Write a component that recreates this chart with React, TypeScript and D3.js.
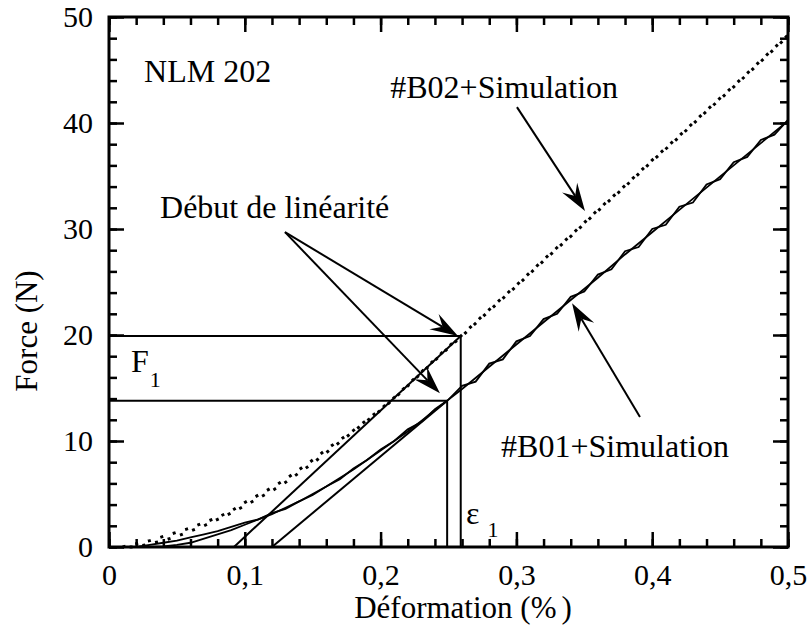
import * as d3 from "d3";
import { useRef, useEffect } from "react";

const width = 810;
const height = 626;
const marginLeft = 109;
const marginRight = 22;
const marginTop = 17;
const marginBottom = 79;
const font = "Liberation Serif";

// #B02 : essai + simulation (pointillés)
const b02Strain = [0.01, 0.02, 0.03, 0.04, 0.05, 0.06, 0.07, 0.08, 0.09, 0.10, 0.11, 0.12, 0.13, 0.14, 0.15, 0.16, 0.17, 0.18, 0.19, 0.20, 0.21, 0.22, 0.23, 0.24, 0.25, 0.26, 0.28, 0.30, 0.32, 0.34, 0.36, 0.38, 0.40, 0.42, 0.44, 0.46, 0.48, 0.50];
const b02Exp = [0, 0.3, 0.6, 1.0, 1.4, 1.8, 2.3, 2.8, 3.4, 4.2, 4.9, 5.6, 6.4, 7.3, 8.2, 9.2, 10.1, 11.0, 12.0, 13.0, 14.1, 15.3, 16.5, 17.7, 18.9, 20.0, 22.4, 24.7, 27.1, 29.4, 31.8, 34.1, 36.5, 38.8, 41.2, 43.5, 45.9, 48.3];
const b02Sim = [0, 0, 0.3, 0.6, 1.0, 1.5, 2.0, 2.6, 3.2, 3.9, 4.6, 5.3, 6.1, 7.0, 7.9, 8.9, 9.9, 10.9, 11.9, 12.9, 14.0, 15.2, 16.4, 17.6, 18.8, 19.9, 22.3, 24.6, 27.0, 29.3, 31.7, 34.0, 36.4, 38.7, 41.1, 43.4, 45.8, 48.2];

// #B01 : essai (bruité) + simulation (traits pleins)
const b01ExpStrain = [0.02, 0.03, 0.04, 0.05, 0.06, 0.07, 0.08, 0.09, 0.10, 0.11, 0.12, 0.13, 0.14, 0.15, 0.16, 0.17, 0.18, 0.19, 0.20, 0.21, 0.22, 0.23, 0.24, 0.25, 0.26, 0.27, 0.28, 0.29, 0.30, 0.31, 0.32, 0.33, 0.34, 0.35, 0.36, 0.37, 0.38, 0.39, 0.40, 0.41, 0.42, 0.43, 0.44, 0.45, 0.46, 0.47, 0.48, 0.49, 0.50];
const b01Exp = [0, 0.2, 0.4, 0.6, 0.9, 1.2, 1.5, 1.9, 2.3, 2.6, 3.2, 3.6, 4.3, 4.9, 5.7, 6.4, 7.4, 8.2, 9.2, 10.0, 11.1, 11.8, 13.0, 13.9, 15.2, 15.6, 17.3, 17.7, 19.4, 19.9, 21.5, 22.0, 23.6, 24.1, 25.7, 26.2, 27.9, 28.3, 30.0, 30.4, 32.1, 32.5, 34.2, 34.7, 36.3, 36.8, 38.4, 38.9, 40.3];
const b01SimStrain = [0.02, 0.03, 0.04, 0.05, 0.06, 0.07, 0.08, 0.09, 0.10, 0.11, 0.12, 0.13, 0.14, 0.15, 0.16, 0.17, 0.18, 0.19, 0.20, 0.21, 0.22, 0.23, 0.24, 0.25, 0.26, 0.28, 0.30, 0.32, 0.34, 0.36, 0.38, 0.40, 0.42, 0.44, 0.46, 0.48, 0.50];
const b01Sim = [0, 0, 0.05, 0.2, 0.4, 0.8, 1.2, 1.6, 2.1, 2.6, 3.1, 3.7, 4.3, 5.0, 5.7, 6.5, 7.3, 8.2, 9.1, 10.0, 10.9, 11.9, 12.9, 13.9, 14.9, 17.0, 19.1, 21.2, 23.3, 25.4, 27.6, 29.7, 31.8, 33.9, 36.0, 38.1, 40.2];

// début de linéarité (déformation, force) et pied des tangentes
const linStrain = [0.259, 0.249];
const linForce = [19.9, 13.8];
const tangentFoot = [0.092, 0.120];

const xTicks = [0, 0.1, 0.2, 0.3, 0.4, 0.5];
const xTickLabels = ["0", "0,1", "0,2", "0,3", "0,4", "0,5"];
const yTicks = [0, 10, 20, 30, 40, 50];

function Arrow({ x1, y1, x2, y2 }: { x1: number; y1: number; x2: number; y2: number }) {
  const a = Math.atan2(y2 - y1, x2 - x1);
  const ux = Math.cos(a), uy = Math.sin(a);
  const px = -uy, py = ux;
  const L = 28, W = 9, N = 18;
  const bx = x2 - ux * L, by = y2 - uy * L;
  const nx = x2 - ux * N, ny = y2 - uy * N;
  const d = `M${x2},${y2}L${bx + px * W},${by + py * W}L${nx},${ny}L${bx - px * W},${by - py * W}Z`;
  return (
    <g>
      <line x1={x1} y1={y1} x2={nx} y2={ny} stroke="black" strokeWidth={2} />
      <path d={d} fill="black" />
    </g>
  );
}

export default function App() {
  const x = d3.scaleLinear([0, 0.5], [marginLeft, width - marginRight]);
  const y = d3.scaleLinear([0, 50], [height - marginBottom, marginTop]);
  const gxMajor = useRef<SVGGElement>(null);
  const gxMinor = useRef<SVGGElement>(null);
  const gtMajor = useRef<SVGGElement>(null);
  const gtMinor = useRef<SVGGElement>(null);
  const gyMajor = useRef<SVGGElement>(null);
  const gyMinor = useRef<SVGGElement>(null);
  const grMajor = useRef<SVGGElement>(null);
  const grMinor = useRef<SVGGElement>(null);

  useEffect(() => {
    const style = (g: any) => {
      g.select(".domain").remove();
      g.attr("font-family", font).attr("font-size", 30);
      g.selectAll("line").attr("stroke", "black").attr("stroke-width", 2.5);
      g.selectAll("text").attr("fill", "black");
    };
    const none = () => "";
    d3.select(gxMinor.current!).call(d3.axisBottom(x).tickValues(x.ticks(25)).tickSize(-8).tickFormat(none)).call(style);
    d3.select(gxMajor.current!).call(d3.axisBottom(x).tickValues(xTicks).tickSize(-15).tickPadding(17).tickFormat((_, i) => xTickLabels[i])).call(style);
    d3.select(gtMinor.current!).call(d3.axisTop(x).tickValues(x.ticks(25)).tickSize(-8).tickFormat(none)).call(style);
    d3.select(gtMajor.current!).call(d3.axisTop(x).tickValues(xTicks).tickSize(-15).tickFormat(none)).call(style);
    d3.select(gyMinor.current!).call(d3.axisLeft(y).tickValues(y.ticks(25)).tickSize(-8).tickFormat(none)).call(style);
    d3.select(gyMajor.current!).call(d3.axisLeft(y).tickValues(yTicks).tickSize(-15).tickPadding(16).tickFormat(d3.format("d"))).call(style);
    d3.select(grMinor.current!).call(d3.axisRight(y).tickValues(y.ticks(25)).tickSize(-8).tickFormat(none)).call(style);
    d3.select(grMajor.current!).call(d3.axisRight(y).tickValues(yTicks).tickSize(-15).tickFormat(none)).call(style);
  }, []);

  const line = (xs: number[], ys: number[]) =>
    d3.line<number>((_, i) => x(xs[i]), (d) => y(d))(ys) ?? "";

  const x0 = marginLeft, xr = width - marginRight;
  const yb = height - marginBottom, yt = marginTop;

  return (
    <svg width={width} height={height} style={{ position: "absolute", left: 0, top: 0, background: "white", fontFamily: font }}>
      <g ref={gxMinor} transform={`translate(0,${yb})`} />
      <g ref={gxMajor} transform={`translate(0,${yb})`} />
      <g ref={gtMinor} transform={`translate(0,${yt})`} />
      <g ref={gtMajor} transform={`translate(0,${yt})`} />
      <g ref={gyMinor} transform={`translate(${x0},0)`} />
      <g ref={gyMajor} transform={`translate(${x0},0)`} />
      <g ref={grMinor} transform={`translate(${xr},0)`} />
      <g ref={grMajor} transform={`translate(${xr},0)`} />

      {/* courbes #B02 en pointillés */}
      <path d={line(b02Strain, b02Exp)} fill="none" stroke="black" strokeWidth={3} strokeDasharray="3 10" />
      <path d={line(b02Strain, b02Sim)} fill="none" stroke="black" strokeWidth={3} strokeDasharray="3 10" strokeDashoffset={6} />

      {/* courbes #B01 */}
      <path d={line(b01ExpStrain, b01Exp)} fill="none" stroke="black" strokeWidth={1.8} />
      <path d={line(b01SimStrain, b01Sim)} fill="none" stroke="black" strokeWidth={1.8} />

      {/* tangentes et repères F1 / eps1 */}
      {linStrain.map((s, i) => (
        <g key={i} stroke="black" strokeWidth={2}>
          <line x1={x(tangentFoot[i])} y1={y(0)} x2={x(s)} y2={y(linForce[i])} />
          <line x1={x(0)} y1={y(linForce[i])} x2={x(s)} y2={y(linForce[i])} />
          <line x1={x(s)} y1={y(linForce[i])} x2={x(s)} y2={y(0)} />
        </g>
      ))}

      {/* cadre */}
      <rect x={x0} y={yt} width={xr - x0} height={yb - yt} fill="none" stroke="black" strokeWidth={3} />

      {/* annotations */}
      <g fontSize={32} fill="black">
        <text x={x(0.0258)} y={y(43.9)}>NLM 202</text>
        <text x={x(0.291)} y={y(42.4)} textAnchor="middle">#B02+Simulation</text>
        <text x={x(0.122)} y={y(31.0)} textAnchor="middle">Début de linéarité</text>
        <text x={x(0.3726)} y={y(8.5)} textAnchor="middle">#B01+Simulation</text>
        <text x={131} y={372}>F<tspan fontSize={22} dx={1} dy={15}>1</tspan></text>
        <text x={466} y={524}>ε<tspan fontSize={22} dx={8} dy={13}>1</tspan></text>
      </g>
      <Arrow x1={x(0.1296)} y1={y(29.7)} x2={x(0.257)} y2={y(19.9)} />
      <Arrow x1={x(0.1296)} y1={y(29.7)} x2={x(0.2437)} y2={y(14.5)} />
      <Arrow x1={x(0.3004)} y1={y(41.5)} x2={x(0.3505)} y2={y(31.7)} />
      <Arrow x1={x(0.391)} y1={y(12.26)} x2={x(0.341)} y2={y(23.0)} />

      {/* titres des axes */}
      <text x={463} y={618} fontSize={31} textAnchor="middle">Déformation (%<tspan dx={5}>)</tspan></text>
      <text transform={`translate(37,331) rotate(-90)`} fontSize={31} textAnchor="middle">Force (N)</text>
    </svg>
  );
}
